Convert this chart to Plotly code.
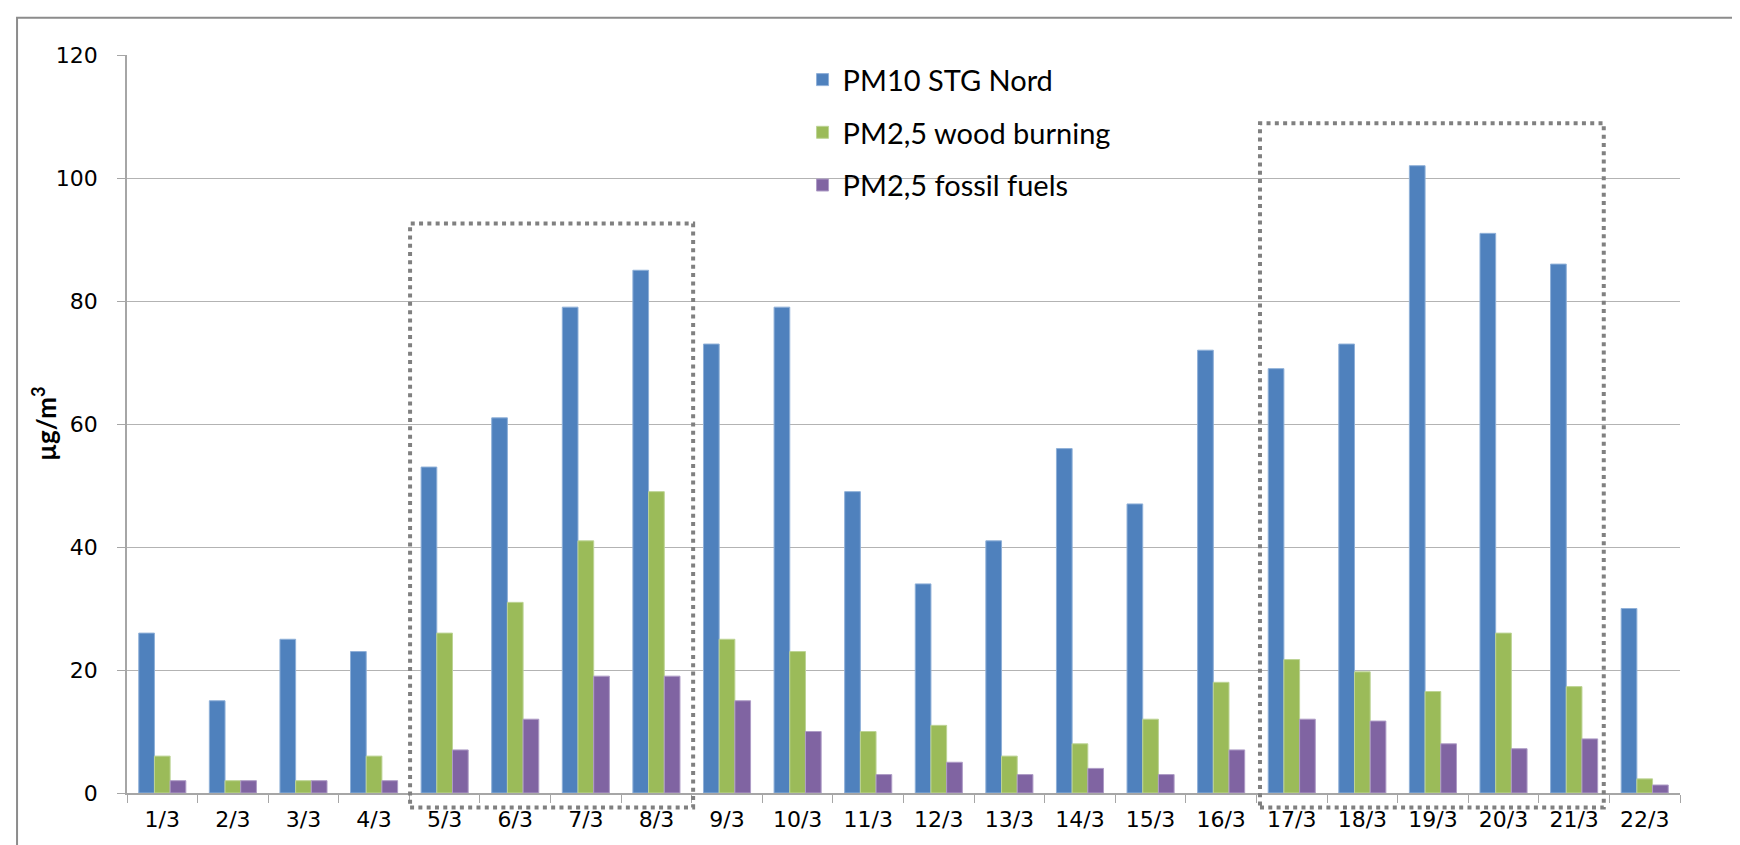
import plotly.graph_objects as go

dates = ["1/3", "2/3", "3/3", "4/3", "5/3", "6/3", "7/3", "8/3", "9/3", "10/3", "11/3",
         "12/3", "13/3", "14/3", "15/3", "16/3", "17/3", "18/3", "19/3", "20/3", "21/3", "22/3"]
pm10_stg_nord = [26, 15, 25, 23, 53, 61, 79, 85, 73, 79, 49,
                 34, 41, 56, 47, 72, 69, 73, 102, 91, 86, 30]
pm25_wood_burning = [6, 2, 2, 6, 26, 31, 41, 49, 25, 23, 10,
                     11, 6, 8, 12, 18, 21.7, 19.7, 16.5, 26, 17.3, 2.3]
pm25_fossil_fuels = [2, 2, 2, 2, 7, 12, 19, 19, 15, 10, 3,
                     5, 3, 4, 3, 7, 12, 11.7, 8, 7.2, 8.8, 1.3]
series_names = ["PM10 STG Nord", "PM2,5 wood burning", "PM2,5 fossil fuels"]
series_colors = ["#4F81BD", "#9BBB59", "#8064A2"]
edge_colors = ["#8FB0D8", "#BDD495", "#AE9CC6"]
y_ticks = [0, 20, 40, 60, 80, 100, 120]
y_title = "<b>µg/m<sup>3</sup></b>"
# highlighted episodes: (first date, last date, top value of the dotted frame)
highlight_periods = [("5/3", "8/3", 92.6), ("17/3", "21/3", 108.9)]

fig = go.Figure()
for i, (name, vals, col, ecol) in enumerate(zip(series_names,
                                                [pm10_stg_nord, pm25_wood_burning, pm25_fossil_fuels],
                                                series_colors, edge_colors)):
    fig.add_trace(go.Bar(x=dates, y=vals, name=name, marker_color=col,
                         marker_line=dict(width=1, color=ecol), legendgroup=f"g{i}"))

n = len(dates)
ymax = y_ticks[-1]
shapes = []
for (d0, d1, top), (l_off, r_off) in zip(highlight_periods, [(-0.49, 0.52), (-0.45, 0.42)]):
    i0 = dates.index(d0)
    i1 = dates.index(d1)
    shapes.append(dict(type="rect", xref="paper", yref="paper",
                       x0=(i0 + l_off + 0.5) / n, x1=(i1 + r_off + 0.5) / n,
                       y0=-2.35 / ymax, y1=top / ymax,
                       line=dict(color="#808080", width=4, dash="4px,4.3px"),
                       fillcolor="rgba(0,0,0,0)"))
# outer chart border
shapes.append(dict(type="rect", xref="paper", yref="paper",
                   x0=-0.0708, x1=1.2, y0=-0.3, y1=1.0506,
                   line=dict(color="#8C8C8C", width=2), fillcolor="rgba(0,0,0,0)"))

fig.update_layout(
    width=1740, height=845,
    margin=dict(l=119, r=68, t=47, b=60),
    paper_bgcolor="white", plot_bgcolor="white",
    barmode="group", bargap=0.333, bargroupgap=0,
    font=dict(family="Lato, Carlito, sans-serif", color="black"),
    legend=dict(x=0.435, y=1.001, xanchor="left", yanchor="top",
                font=dict(size=29, family="Lato, sans-serif"),
                bgcolor="rgba(0,0,0,0)", tracegroupgap=12),
    shapes=shapes,
    annotations=[dict(text=y_title, xref="paper", yref="paper", x=-0.0534, y=0.5,
                      xanchor="center", yanchor="middle", textangle=-90, showarrow=False,
                      font=dict(size=26, family="Lato, sans-serif", color="black"))],
    xaxis=dict(type="category", showline=True, linecolor="#A6A6A6", linewidth=1.5,
               ticks="outside", tickson="boundaries", ticklen=8, tickcolor="#A6A6A6",
               tickfont=dict(size=22, family="DejaVu Sans"), showgrid=False,
               ticklabelstandoff=6),
    yaxis=dict(range=[0, ymax], tickvals=y_ticks, showline=True, linecolor="#A6A6A6",
               linewidth=1.5, ticks="outside", ticklen=8, tickcolor="#A6A6A6",
               gridcolor="#B3B3B3", gridwidth=1.2, zeroline=False,
               tickfont=dict(size=22, family="DejaVu Sans"), ticklabelstandoff=15),
)

fig.write_html("out.html")
